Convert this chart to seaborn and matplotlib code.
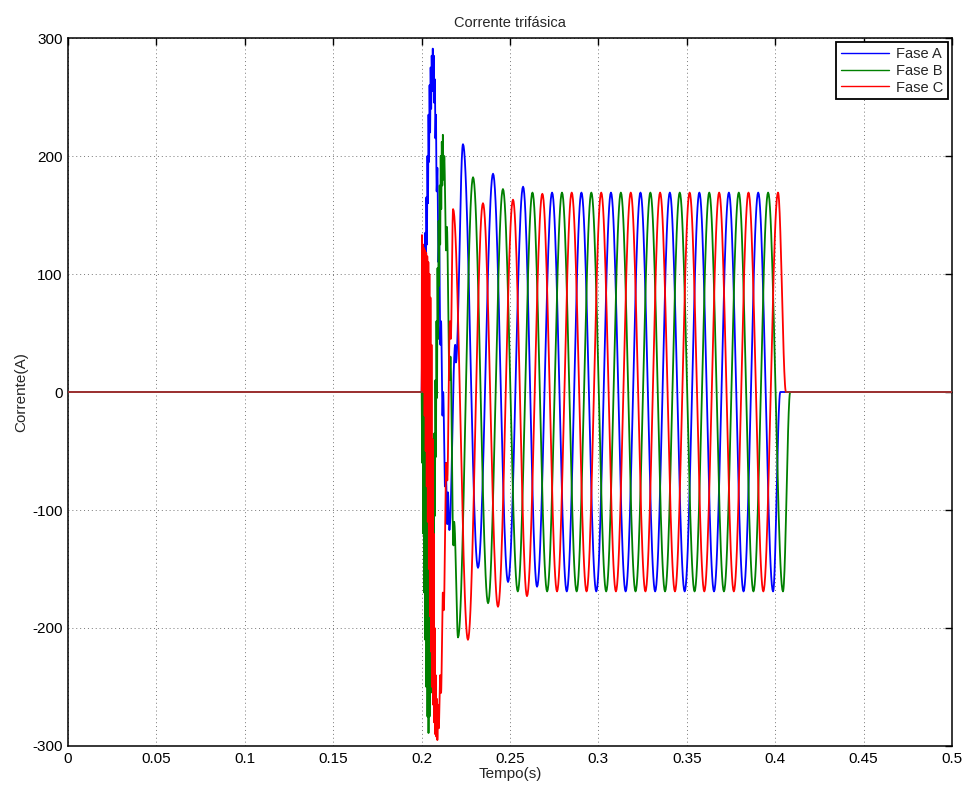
import numpy as np
import pandas as pd
import matplotlib
matplotlib.use("Agg")
import matplotlib.pyplot as plt
import seaborn as sns

# ---------------- data (turning points of each phase) ----------------
title = "Corrente trifásica"
xlabel = "Tempo(s)"
ylabel = "Corrente(A)"
fases = ["Fase A", "Fase B", "Fase C"]
cores = ["#0000ff", "#008000", "#ff0000"]

x_ticks = [0, 0.05, 0.1, 0.15, 0.2, 0.25, 0.3, 0.35, 0.4, 0.45, 0.5]
x_tick_labels = ["0", "0.05", "0.1", "0.15", "0.2", "0.25", "0.3", "0.35", "0.4", "0.45", "0.5"]
y_ticks = [-300, -200, -100, 0, 100, 200, 300]

# Fase A (blue): time (s) and current (A) at the turning points
fase_a_t = [0.0, 0.2000, 0.2003, 0.2006, 0.2009, 0.2012, 0.2015, 0.2018, 0.2021, 0.2024,
            0.2027, 0.2030, 0.2033, 0.2036, 0.2039, 0.2042, 0.2045, 0.2048, 0.2051, 0.2054,
            0.2057, 0.2060, 0.2063, 0.2066, 0.2069, 0.2072, 0.2075, 0.2078, 0.2081, 0.2085,
            0.2089, 0.2095, 0.2099, 0.2106, 0.2110, 0.2118, 0.2122, 0.2132, 0.2136, 0.2145,
            0.2149, 0.2157, 0.2190, 0.2194,
            0.2234, 0.2319, 0.2404, 0.2489, 0.2574, 0.2653,
            0.2738, 0.2821, 0.2904, 0.2988, 0.3071, 0.3154, 0.3238, 0.3321, 0.3404, 0.3488,
            0.3571, 0.3654, 0.3738, 0.3821, 0.3904, 0.3988, 0.4029, 0.5]
fase_a_i = [0, 0, 40, -10, 80, 20, 110, 50, 135, 90,
            165, 125, 200, 160, 235, 195, 260, 220, 275, 240,
            285, 255, 291, 260, 285, 245, 265, 215, 235, 170,
            190, 110, 130, 40, 60, -20, 0, -80, -60, -112,
            -85, -117, 40, 25,
            210, -149, 185, -161, 174, -165,
            169, -169, 169, -169, 169, -169, 169, -169, 169, -169,
            169, -169, 169, -169, 169, -169, 0, 0]

# Fase B (green)
fase_b_t = [0.0, 0.2000, 0.2003, 0.2006, 0.2009, 0.2012, 0.2015, 0.2018, 0.2021, 0.2024,
            0.2027, 0.2030, 0.2033, 0.2036, 0.2039, 0.2042, 0.2045, 0.2048, 0.2051, 0.2054,
            0.2057, 0.2060, 0.2063, 0.2066, 0.2069, 0.2072, 0.2075, 0.2078, 0.2081, 0.2084,
            0.2087, 0.2090, 0.2093, 0.2096, 0.2099, 0.2102, 0.2105, 0.2108, 0.2111, 0.2114,
            0.2117, 0.2120, 0.2124, 0.2128, 0.2138, 0.2143, 0.2158, 0.2163, 0.2180, 0.2184,
            0.2206, 0.2291, 0.2376, 0.2460, 0.2544,
            0.2627, 0.2710, 0.2794, 0.2877, 0.2960, 0.3044, 0.3127, 0.3210, 0.3294, 0.3377,
            0.3460, 0.3544, 0.3627, 0.3710, 0.3794, 0.3877, 0.3960, 0.4044, 0.4085, 0.5]
fase_b_i = [0, 0, -60, 25, -120, 20, -170, 0, -210, -30,
            -250, -70, -275, -110, -289, -150, -275, -170, -255, -150,
            -230, -120, -195, -80, -150, -35, -105, 10, -55, 60,
            -5, 105, 45, 145, 90, 175, 125, 200, 155, 212,
            175, 218, 180, 200, 120, 140, 10, 30, -130, -110,
            -208, 182, -179, 172, -169,
            169, -169, 169, -169, 169, -169, 169, -169, 169, -169,
            169, -169, 169, -169, 169, -169, 169, -169, 0, 0]

# Fase C (red)
fase_c_t = [0.0, 0.2000, 0.2002, 0.2005, 0.2008, 0.2011, 0.2014, 0.2017, 0.2020, 0.2023,
            0.2026, 0.2029, 0.2032, 0.2035, 0.2038, 0.2041, 0.2044, 0.2047, 0.2050, 0.2053,
            0.2056, 0.2059, 0.2062, 0.2065, 0.2068, 0.2071, 0.2074, 0.2077, 0.2080, 0.2083,
            0.2086, 0.2089, 0.2093, 0.2097, 0.2105, 0.2110, 0.2120, 0.2125, 0.2140, 0.2145,
            0.2160, 0.2165, 0.2178,
            0.2262, 0.2347, 0.2432, 0.2517, 0.2596,
            0.2683, 0.2766, 0.2849, 0.2933, 0.3016, 0.3099, 0.3183, 0.3266, 0.3349, 0.3433,
            0.3516, 0.3599, 0.3683, 0.3766, 0.3849, 0.3933, 0.4016, 0.4061, 0.5]
fase_c_i = [0, 0, 133, 20, 125, 0, 122, -20, 120, -50,
            118, -80, 115, -110, 110, -150, 100, -190, 80, -220,
            40, -250, -40, -265, -120, -280, -200, -290, -240, -292,
            -260, -295, -265, -285, -240, -255, -170, -185, -60, -75,
            60, 45, 155,
            -210, 160, -182, 163, -173,
            168, -169, 169, -169, 169, -169, 169, -169, 169, -169,
            169, -169, 169, -169, 169, -169, 169, 0, 0]

# ---------------- smooth rendering between the read turning points ----------------
def curva(ts, vs, n=24):
    tt, yy = [], []
    for k in range(len(ts) - 1):
        s = np.linspace(0, 1, n, endpoint=False)
        tt.append(ts[k] + (ts[k + 1] - ts[k]) * s)
        yy.append(vs[k] + (vs[k + 1] - vs[k]) * (1 - np.cos(np.pi * s)) / 2)
    tt.append([ts[-1]]); yy.append([vs[-1]])
    return np.concatenate(tt), np.concatenate(yy)

frames = []
for nome, ts, vs in [(fases[0], fase_a_t, fase_a_i), (fases[1], fase_b_t, fase_b_i),
                     (fases[2], fase_c_t, fase_c_i)]:
    tt, yy = curva(ts, vs)
    frames.append(pd.DataFrame({"t": tt, "i": yy, "fase": nome}))
df = pd.concat(frames, ignore_index=True)

# ---------------- plot ----------------
sns.set_style("white")
plt.rcParams["font.family"] = ["Liberation Sans", "DejaVu Sans"]
plt.rcParams["axes.unicode_minus"] = False

fig = plt.figure(figsize=(9.65, 7.87), dpi=100)
ax = fig.add_axes([0.0705, 0.0521, 0.9160, 0.8996])

sns.lineplot(data=df, x="t", y="i", hue="fase", palette=dict(zip(fases, cores)),
             sort=False, estimator=None, units="fase", linewidth=1.3, ax=ax,
             legend=True)

# zero segments where all phases overlap (drawn darker, as in the reference)
ax.plot([0.0, 0.2], [0, 0], color="#9a3434", lw=1.4, zorder=5)
ax.plot([0.4061, 0.5], [0, 0], color="#9a3434", lw=1.4, zorder=5)

ax.set_xlim(0, 0.5)
ax.set_ylim(-300, 300)
ax.set_xticks(x_ticks)
ax.set_xticklabels(x_tick_labels)
ax.set_yticks(y_ticks)
ax.tick_params(direction="in", top=True, right=True, length=5, width=1,
               labelsize=11, pad=4, colors="black")
ax.grid(True, linestyle=(0, (1, 3)), color="#777777", linewidth=0.7)
for sp in ax.spines.values():
    sp.set_color("black")
    sp.set_linewidth(1.1)

ax.set_title(title, fontsize=10.5, pad=8)
ax.set_xlabel(xlabel, fontsize=11, labelpad=1)
ax.set_ylabel(ylabel, fontsize=11, labelpad=3)

leg = ax.legend(loc="upper right", fontsize=10.5, frameon=True, fancybox=False,
                edgecolor="black", framealpha=1, handlelength=3.3, borderaxespad=0.3,
                borderpad=0.3, labelspacing=0.2, handletextpad=0.5)
leg.get_frame().set_linewidth(1.3)
for h in leg.get_lines():
    h.set_linewidth(1.0)

fig.savefig("out.png", dpi=100)
